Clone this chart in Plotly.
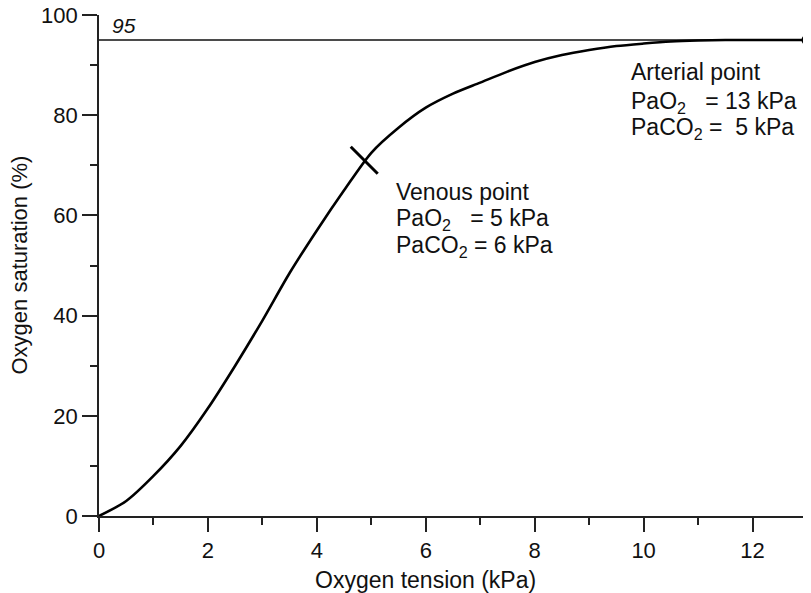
import plotly.graph_objects as go

# Oxygen dissociation curve
tension_kpa = [0, 0.5, 1.0, 1.5, 2.0, 2.5, 3.0, 3.5, 4.0, 4.5, 5.0, 5.5, 6.0, 6.5,
               7.0, 7.5, 8.0, 8.5, 9.0, 9.5, 10.0, 10.5, 11.0, 11.5, 12.0, 13.0]
saturation_pct = [0, 3, 8, 14, 21.5, 30, 39, 48.5, 57, 65, 72.5, 77.5, 81.5, 84.3,
                  86.5, 88.7, 90.6, 92, 93, 93.8, 94.3, 94.7, 94.9, 95, 95, 95]

venous_point = (4.87, 71)
arterial_point = (13, 95)
ref_level = 95

x_ticks = [0, 2, 4, 6, 8, 10, 12]
y_ticks = [0, 20, 40, 60, 80, 100]

FONT = "Liberation Sans, Arial, Helvetica, sans-serif"
AX = "#222222"
TXT = "#111111"

fig = go.Figure()

# reference frame lines at 95 % and at 13 kPa
fig.add_trace(go.Scatter(x=[0, arterial_point[0], arterial_point[0]],
                         y=[ref_level, ref_level, 0],
                         mode="lines", line=dict(color="#111111", width=1.5),
                         hoverinfo="skip", showlegend=False, cliponaxis=False))

fig.add_trace(go.Scatter(x=tension_kpa, y=saturation_pct, mode="lines",
                         line=dict(color="#000000", width=2.6, shape="spline", smoothing=0.8),
                         showlegend=False, cliponaxis=False))

fig.add_trace(go.Scatter(x=[venous_point[0]], y=[venous_point[1]], mode="markers",
                         marker=dict(symbol="line-nw", size=27,
                                     line=dict(color="#000000", width=3)),
                         showlegend=False, cliponaxis=False))

fig.add_trace(go.Scatter(x=[arterial_point[0]], y=[arterial_point[1]], mode="markers",
                         marker=dict(symbol="circle", size=11, color="#000000"),
                         showlegend=False, cliponaxis=False))

NB = "\u00a0"
ann_font = dict(family=FONT, size=23, color=TXT)
annotations = [
    dict(x=5.42, y=64.7, text="Venous point"),
    dict(x=5.42, y=59.1, text=f"PaO<sub>2</sub>{NB*3}= 5 kPa"),
    dict(x=5.42, y=53.7, text="PaCO<sub>2</sub> = 6 kPa"),
    dict(x=9.73, y=88.6, text="Arterial point"),
    dict(x=9.73, y=82.6, text=f"PaO<sub>2</sub>{NB*3}= 13 kPa"),
    dict(x=9.73, y=77.4, text=f"PaCO<sub>2</sub> ={NB*2}5 kPa"),
]
for a in annotations:
    fig.add_annotation(x=a["x"], y=a["y"], text=a["text"], xref="x", yref="y",
                       xanchor="left", yanchor="middle", showarrow=False, font=ann_font)

fig.add_annotation(x=0.2, y=ref_level, text="<i>95</i>", xref="x", yref="y",
                   xanchor="left", yanchor="bottom", showarrow=False,
                   font=dict(family=FONT, size=21, color=TXT), yshift=1)

# axis titles
fig.add_annotation(x=6, y=0, xref="x", yref="paper", yshift=-64, text="Oxygen tension (kPa)",
                   xanchor="center", yanchor="middle", showarrow=False,
                   font=dict(family=FONT, size=23, color=TXT))
fig.add_annotation(x=0, y=0.5, xref="paper", yref="paper", xshift=-80, textangle=-90,
                   text="Oxygen saturation (%)", xanchor="center", yanchor="middle",
                   showarrow=False, font=dict(family=FONT, size=22, color=TXT))

# page body has an 8px margin, so the figure is drawn 8px in from the top-left corner
fig.update_layout(
    width=803, height=585,
    margin=dict(l=91, r=4, t=7, b=77, autoexpand=False),
    paper_bgcolor="white", plot_bgcolor="white",
    font=dict(family=FONT, size=22, color=TXT),
    xaxis=dict(range=[0, 13], tickvals=x_ticks, ticktext=[str(v) for v in x_ticks],
               ticks="outside", ticklen=14, tickwidth=1.6, tickcolor=AX,
               showline=True, linecolor=AX, linewidth=1.8, showgrid=False, zeroline=False,
               minor=dict(dtick=1, ticks="outside", ticklen=7, tickwidth=1.6, tickcolor=AX),
               automargin=False, tickfont=dict(size=22), ticklabeloverflow="allow"),
    yaxis=dict(range=[0, 100], tickvals=y_ticks, ticktext=[str(v) for v in y_ticks],
               ticks="outside", ticklen=15, tickwidth=1.6, tickcolor=AX,
               showline=True, linecolor=AX, linewidth=1.8, showgrid=False, zeroline=False,
               minor=dict(dtick=10, ticks="outside", ticklen=7, tickwidth=1.6, tickcolor=AX),
               automargin=False, tickfont=dict(size=22), ticklabeloverflow="allow"),
)

fig.write_html("out.html")
